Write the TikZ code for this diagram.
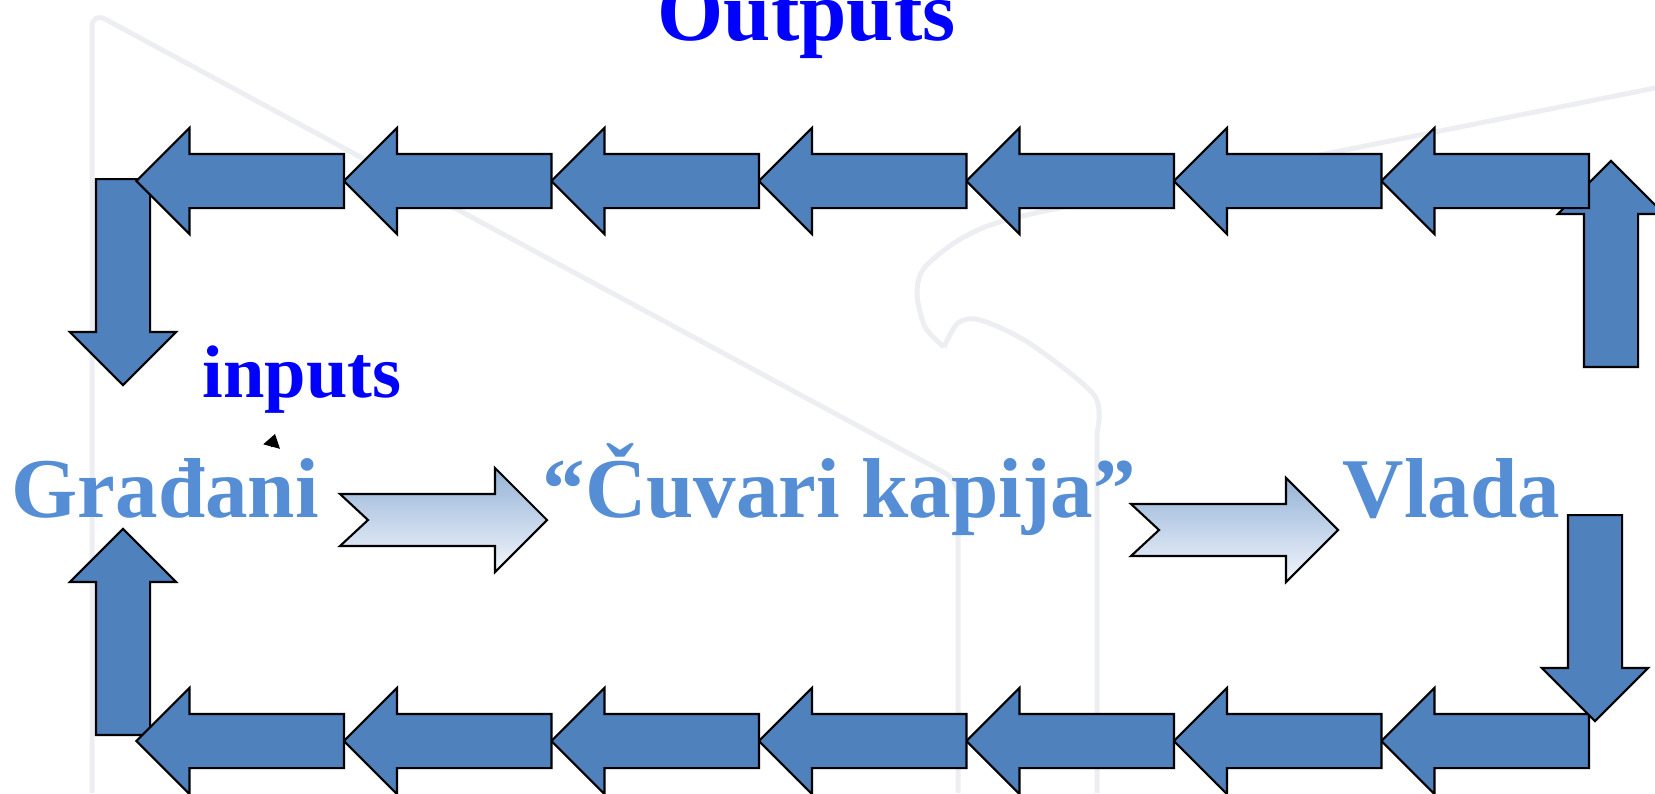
\documentclass[tikz,border=0pt]{standalone}
\usepackage{fontspec}
\setmainfont{Liberation Serif}
\usetikzlibrary{shapes.arrows,arrows.meta}

\definecolor{arrowblue}{RGB}{79,129,189}
\definecolor{stageblue}{RGB}{85,142,213}
\definecolor{gradtop}{RGB}{149,179,215}
\definecolor{gradbottom}{RGB}{243,246,252}
\definecolor{markgray}{RGB}{236,238,242}

\tikzset{
  blockarrow/.style={single arrow, draw=black, line width=0.6pt, fill=arrowblue,
    single arrow head extend=0.26cm, anchor=tail},
  goleft/.style={blockarrow, inner xsep=0pt, inner ysep=0.26cm,
    minimum height=2.075cm, shape border rotate=180},
  goup/.style={blockarrow, inner xsep=0.26cm, inner ysep=0pt,
    minimum height=2.06cm, shape border rotate=90},
  godown/.style={blockarrow, inner xsep=0.26cm, inner ysep=0pt,
    minimum height=2.06cm, shape border rotate=270},
  stagelabel/.style={text=stageblue, inner sep=0pt, anchor=base west,
    font=\fontsize{24.2}{29}\selectfont\bfseries},
  flowlabel/.style={text=blue, inner sep=0pt, anchor=base west,
    font=\fontsize{24.2}{29}\selectfont\bfseries},
  watermark/.style={draw=markgray, line width=0.05cm},
  notcharrow/.pic={
    \shade[top color=gradtop, bottom color=gradbottom, draw=black, line width=0.6pt]
      (0,0.26) -- (1.55,0.26) -- (1.55,0.52) -- (2.07,0) -- (1.55,-0.52)
      -- (1.55,-0.26) -- (0,-0.26) -- (0.28,0) -- cycle;
  }
}

\begin{document}
\begin{tikzpicture}
        % Page frame
        \clip (0,0) rectangle (16.55,7.93);

        % Faint watermark behind the diagram
        \draw[watermark, rounded corners=0.15cm] (0.92,0) -- (0.92,7.81) -- (9.58,3.13) -- (9.58,0);
        \draw[watermark] plot[smooth] coordinates {(16.55,7.05) (13.45,6.43) (11.82,6.10) (10.18,5.76) (9.64,5.56) (9.25,5.26) (9.17,5.00) (9.25,4.66) (9.44,4.46)};
        \draw[watermark] plot[smooth] coordinates {(9.44,4.46) (9.58,4.70) (9.80,4.73) (10.29,4.50) (10.94,3.98) (10.97,3.60)} -- (10.97,0);

        % Corner arrows under the rows
        \node[goup] (up-right) at (16.11,4.25) {};
        \node[godown] (down-left) at (1.23,6.15) {};
        \node[goup] (up-left) at (1.23,0.57) {};

        % Top row, running left
        \node[goleft] (top1) at (15.90,6.12) {};
        \node[goleft] (top2) at (13.825,6.12) {};
        \node[goleft] (top3) at (11.75,6.12) {};
        \node[goleft] (top4) at (9.675,6.12) {};
        \node[goleft] (top5) at (7.60,6.12) {};
        \node[goleft] (top6) at (5.525,6.12) {};
        \node[goleft] (top7) at (3.45,6.12) {};

        % Bottom row, running left
        \node[goleft] (bottom1) at (15.90,0.52) {};
        \node[goleft] (bottom2) at (13.825,0.52) {};
        \node[goleft] (bottom3) at (11.75,0.52) {};
        \node[goleft] (bottom4) at (9.675,0.52) {};
        \node[goleft] (bottom5) at (7.60,0.52) {};
        \node[goleft] (bottom6) at (5.525,0.52) {};
        \node[goleft] (bottom7) at (3.45,0.52) {};
        \node[godown] (down-right) at (15.95,2.79) {};

        % Stages
        \node[stagelabel] (gradjani) at (0.11,2.76) {Građani};
        \node[stagelabel] (cuvari) at (5.42,2.76) {“Čuvari kapija”};
        \node[stagelabel] (vlada) at (13.42,2.76) {Vlada};

        % Shaded arrows between the stages
        \pic (flow1) at (3.40,2.73) {notcharrow};
        \pic (flow2) at (11.31,2.63) {notcharrow};

        % Inputs and outputs
        \node[flowlabel] (outputs) at (6.57,7.53) {Outputs};
        \node[flowlabel, font=\fontsize{21.2}{25}\selectfont\bfseries] (inputs) at (2.02,3.96) {inputs};
        \coordinate (in-from) at (2.715,3.46);
        \coordinate (in-to) at (2.75,3.59);
        \draw[-{Triangle[length=0.13cm, width=0.17cm]}] (in-from) -- (in-to);
\end{tikzpicture}
\end{document}
